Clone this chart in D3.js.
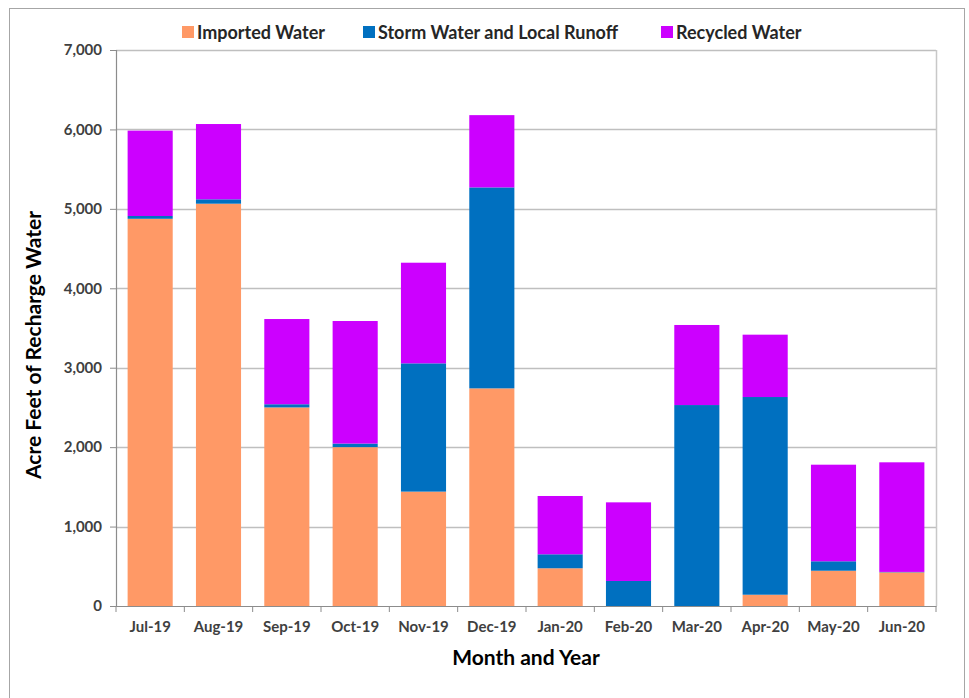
<!DOCTYPE html>
<html>
<head>
<meta charset="utf-8">
<title>Recharge Water by Month</title>
<script src="https://d3js.org/d3.v7.min.js"></script>
<style>
  body { margin: 0; background: #fff; }
  svg text { font-family: Lato, "Open Sans", sans-serif; font-weight: bold; }
</style>
</head>
<body>
<svg id="chart" width="969" height="698"></svg>
<script>
"use strict";

// data (acre feet)
const months = ["Jul-19","Aug-19","Sep-19","Oct-19","Nov-19","Dec-19","Jan-20","Feb-20","Mar-20","Apr-20","May-20","Jun-20"];
const imported = [4875, 5065, 2500, 2000, 1440, 2740, 475, 0, 0, 142, 444, 424];
const storm    = [35, 55, 40, 45, 1615, 2530, 176, 315, 2530, 2489, 119, 5];
const recycled = [1075, 948, 1073, 1543, 1267, 910, 734, 990, 1008, 785, 1216, 1380];
const seriesNames = ["Imported Water", "Storm Water and Local Runoff", "Recycled Water"];
const colors = ["#FF9966", "#0070C0", "#CC00FF"];
const yTicks = [0, 1000, 2000, 3000, 4000, 5000, 6000, 7000];

const svg = d3.select("#chart");
const margin = { top: 50, right: 33, bottom: 92, left: 116 };
const width = +svg.attr("width");
const height = +svg.attr("height");
const innerW = width - margin.left - margin.right;
const innerH = height - margin.top - margin.bottom;

// outer frame
svg.append("rect")
  .attr("x", 9.5).attr("y", 8.5)
  .attr("width", 955).attr("height", 700)
  .attr("fill", "none").attr("stroke", "#a6a6a6");

const rows = months.map((m, i) => ({ month: m, imp: imported[i], storm: storm[i], rec: recycled[i] }));
const stack = d3.stack().keys(["imp", "storm", "rec"])(rows);

const x = d3.scaleBand().domain(months).range([0, innerW]).paddingInner(0.34).paddingOuter(0.17);
const y = d3.scaleLinear().domain([0, 7000]).range([innerH, 0]);

const g = svg.append("g").attr("transform", `translate(${margin.left},${margin.top})`);

// gridlines
g.append("g")
  .selectAll("line")
  .data(yTicks.slice(1))
  .join("line")
  .attr("x1", 0).attr("x2", innerW)
  .attr("y1", d => Math.round(y(d)) + 0.5).attr("y2", d => Math.round(y(d)) + 0.5)
  .attr("stroke", "#bfbfbf").attr("stroke-width", 1.5);

// right frame of plot area
g.append("line")
  .attr("x1", innerW + 0.5).attr("x2", innerW + 0.5)
  .attr("y1", 0).attr("y2", innerH)
  .attr("stroke", "#c8c8c8").attr("stroke-width", 1.5);

// bars
g.append("g")
  .selectAll("g")
  .data(stack)
  .join("g")
  .attr("fill", (d, i) => colors[i])
  .selectAll("rect")
  .data(d => d)
  .join("rect")
  .attr("x", d => x(d.data.month))
  .attr("width", x.bandwidth())
  .attr("y", d => y(d[1]))
  .attr("height", d => y(d[0]) - y(d[1]));

// y axis
const yAxis = g.append("g")
  .call(d3.axisLeft(y).tickValues(yTicks).tickSize(6).tickPadding(8).tickFormat(d3.format(",")));
yAxis.select(".domain").attr("stroke", "#8c8c8c").attr("stroke-width", 1.2);
yAxis.selectAll(".tick line").attr("stroke", "#8c8c8c");
yAxis.selectAll("text").attr("fill", "#404040").style("font-size", "15px");

// x axis with ticks at category boundaries
const xAxis = g.append("g").attr("transform", `translate(0,${innerH})`)
  .call(d3.axisBottom(x).tickSize(0).tickPadding(15));
xAxis.select(".domain").attr("stroke", "#8c8c8c").attr("stroke-width", 1.2);
xAxis.selectAll("text").attr("fill", "#404040").style("font-size", "15px");
const step = x.step();
xAxis.append("g")
  .selectAll("line")
  .data(d3.range(months.length + 1))
  .join("line")
  .attr("x1", i => i * step).attr("x2", i => i * step)
  .attr("y1", 0).attr("y2", 6)
  .attr("stroke", "#8c8c8c");

// axis titles
svg.append("text")
  .attr("x", margin.left + innerW / 2)
  .attr("y", 665)
  .attr("text-anchor", "middle")
  .style("font-size", "21px")
  .attr("fill", "#000")
  .text("Month and Year");

svg.append("text")
  .attr("transform", `translate(41,${margin.top + innerH / 2 + 17}) rotate(-90)`)
  .attr("text-anchor", "middle")
  .style("font-size", "21px")
  .attr("fill", "#000")
  .text("Acre Feet of Recharge Water");

// legend
const legendX = [182, 363, 661];
const legend = svg.append("g")
  .selectAll("g")
  .data(seriesNames)
  .join("g")
  .attr("transform", (d, i) => `translate(${legendX[i]},32)`);
legend.append("rect")
  .attr("x", 0).attr("y", -6).attr("width", 12).attr("height", 12)
  .attr("fill", (d, i) => colors[i]);
legend.append("text")
  .attr("x", 15).attr("y", 6.5)
  .style("font-size", "18px")
  .attr("fill", "#262626")
  .text(d => d);
</script>
</body>
</html>
